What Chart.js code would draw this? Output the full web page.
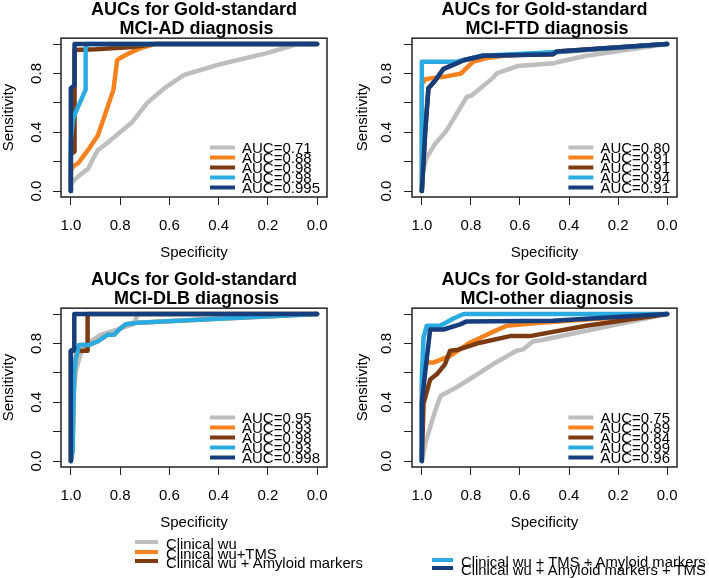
<!DOCTYPE html>
<html>
<head>
<meta charset="utf-8">
<title>AUCs for Gold-standard MCI diagnosis</title>
<script src="https://cdn.jsdelivr.net/npm/chart.js@4.4.1/dist/chart.umd.min.js"></script>
<style>
  html, body { margin: 0; padding: 0; background: #fff; }
  #page { position: relative; width: 709px; height: 578px; overflow: hidden;
          font-family: "Liberation Sans", Arial, Helvetica, sans-serif; }
  .panel { position: absolute; }
  .key { position: absolute; white-space: nowrap; font-size: 14.8px; color: #000;
         height: 16px; line-height: 16px; }
  .key i { position: absolute; left: 0; top: 4px; height: 4px; }
</style>
</head>
<body>
<div id="page">
  <canvas id="c1" class="panel" width="354" height="270" style="left:0;top:0"></canvas>
  <canvas id="c2" class="panel" width="355" height="270" style="left:354px;top:0"></canvas>
  <canvas id="c3" class="panel" width="354" height="270" style="left:0;top:270px"></canvas>
  <canvas id="c4" class="panel" width="355" height="270" style="left:354px;top:270px"></canvas>
</div>
<script>
'use strict';

var FONT = '"Liberation Sans", Arial, Helvetica, sans-serif';

var seriesNames = ['Clinical wu', 'Clinical wu+TMS', 'Clinical wu + Amyloid markers',
    'Clinical wu + TMS + Amyloid markers', 'Clinical wu + Amyloid markers + TMS'];
var seriesColors = ['#bebebe', '#f5821f', '#7b3a12', '#2aace2', '#163e7c'];

var specTicks = [1.0, 0.8, 0.6, 0.4, 0.2, 0.0];
var sensTicks = [0, 0.2, 0.4, 0.6, 0.8, 1.0];
var sensLabelled = [0, 0.4, 0.8];

// ROC points are [specificity, sensitivity]

// MCI-AD
var adAuc = ['AUC=0.71', 'AUC=0.88', 'AUC=0.98', 'AUC=0.98', 'AUC=0.995'];
var adClinical = [[1, 0], [1, 0.05], [0.97, 0.10], [0.94, 0.14], [0.93, 0.15], [0.91, 0.22],
    [0.89, 0.28], [0.85, 0.33], [0.80, 0.40], [0.75, 0.47], [0.69, 0.60], [0.62, 0.70],
    [0.54, 0.79], [0.48, 0.82], [0.40, 0.86], [0.30, 0.90], [0.20, 0.94], [0.12, 0.98],
    [0.08, 1], [0, 1]];
var adTms = [[1, 0], [1, 0.14], [0.99, 0.17], [0.97, 0.19], [0.93, 0.28], [0.89, 0.38],
    [0.847, 0.59], [0.827, 0.69], [0.812, 0.89], [0.80, 0.905], [0.76, 0.94], [0.72, 0.97],
    [0.66, 1], [0, 1]];
var adAmyloid = [[1, 0], [1, 0.25], [0.985, 0.27], [0.985, 0.96], [0.90, 0.965], [0.75, 0.98],
    [0.66, 1], [0, 1]];
var adTmsAmyloid = [[1, 0], [1, 0.35], [0.99, 0.50], [0.94, 0.69], [0.94, 0.97], [0.935, 1], [0, 1]];
var adAmyloidTms = [[1, 0], [1, 0.70], [0.985, 0.72], [0.985, 1], [0, 1]];

// MCI-FTD
var ftdAuc = ['AUC=0.80', 'AUC=0.91', 'AUC=0.91', 'AUC=0.94', 'AUC=0.91'];
var ftdClinical = [[1, 0], [0.995, 0.14], [0.98, 0.23], [0.946, 0.32], [0.90, 0.41], [0.817, 0.64],
    [0.797, 0.65], [0.71, 0.77], [0.695, 0.80], [0.61, 0.85], [0.46, 0.87], [0.44, 0.88],
    [0.33, 0.92], [0, 1]];
var ftdTms = [[1, 0], [1, 0.73], [0.986, 0.76], [0.95, 0.77], [0.90, 0.78], [0.84, 0.80],
    [0.81, 0.85], [0.79, 0.88], [0.735, 0.905], [0.668, 0.92], [0.41, 0.95], [0, 1]];
var ftdAmyloid = [[1, 0], [0.986, 0.41], [0.973, 0.70], [0.946, 0.75], [0.912, 0.83], [0.871, 0.86],
    [0.83, 0.89], [0.75, 0.92], [0.465, 0.93], [0.45, 0.95], [0, 1]];
var ftdTmsAmyloid = [[1, 0], [1, 0.88], [0.858, 0.88], [0.756, 0.92], [0.465, 0.945], [0, 1]];
var ftdAmyloidTms = [[1, 0], [0.986, 0.41], [0.973, 0.70], [0.946, 0.75], [0.912, 0.83], [0.871, 0.86],
    [0.83, 0.89], [0.75, 0.92], [0.465, 0.93], [0.45, 0.95], [0, 1]];

// MCI-DLB
var dlbAuc = ['AUC=0.95', 'AUC=0.93', 'AUC=0.98', 'AUC=0.93', 'AUC=0.998'];
var dlbClinical = [[1, 0], [0.993, 0.39], [0.98, 0.61], [0.96, 0.73], [0.932, 0.80], [0.878, 0.86],
    [0.81, 0.895], [0.75, 0.93], [0.737, 0.96], [0.73, 1], [0, 1]];
var dlbTms = [[1, 0], [0.993, 0.07], [0.986, 0.61], [0.98, 0.70], [0.966, 0.79], [0.926, 0.79],
    [0.89, 0.815], [0.85, 0.86], [0.824, 0.86], [0.804, 0.895], [0.777, 0.93], [0.73, 0.94],
    [0.338, 0.973], [0, 1]];
var dlbAmyloid = [[1, 0], [1, 0.75], [0.932, 0.75], [0.932, 1], [0, 1]];
var dlbTmsAmyloid = [[1, 0], [0.993, 0.07], [0.986, 0.61], [0.98, 0.70], [0.966, 0.79], [0.926, 0.79],
    [0.89, 0.815], [0.85, 0.86], [0.824, 0.86], [0.804, 0.895], [0.777, 0.93], [0.73, 0.94],
    [0.338, 0.973], [0, 1]];
var dlbAmyloidTms = [[1, 0], [1, 0.75], [0.986, 0.76], [0.986, 1], [0, 1]];

// MCI-other
var othAuc = ['AUC=0.75', 'AUC=0.89', 'AUC=0.84', 'AUC=0.99', 'AUC=0.96'];
var othClinical = [[1, 0], [0.986, 0.12], [0.966, 0.23], [0.946, 0.34], [0.923, 0.445], [0.871, 0.49],
    [0.817, 0.545], [0.709, 0.66], [0.614, 0.75], [0.587, 0.76], [0.546, 0.815], [0.52, 0.82], [0, 1]];
var othTms = [[1, 0], [1, 0.52], [0.98, 0.67], [0.953, 0.67], [0.885, 0.715], [0.804, 0.805],
    [0.722, 0.87], [0.654, 0.92], [0.52, 0.94], [0, 1]];
var othAmyloid = [[1, 0], [0.993, 0.39], [0.966, 0.555], [0.939, 0.59], [0.905, 0.66], [0.885, 0.75],
    [0.858, 0.755], [0.763, 0.805], [0.64, 0.85], [0.56, 0.85], [0.33, 0.92], [0, 1]];
var othTmsAmyloid = [[1, 0], [1, 0.57], [0.993, 0.84], [0.98, 0.92], [0.925, 0.92], [0.871, 0.97],
    [0.83, 1], [0, 1]];
var othAmyloidTms = [[1, 0], [1, 0.39], [0.986, 0.61], [0.966, 0.895], [0.912, 0.895], [0.844, 0.93],
    [0.817, 0.95], [0.465, 0.955], [0, 1]];

var panels = [
    {id: 'c1', col: 0, title: ['AUCs for Gold-standard', ' MCI-AD diagnosis'], auc: adAuc,
        curves: [adClinical, adTms, adAmyloid, adTmsAmyloid, adAmyloidTms]},
    {id: 'c2', col: 1, title: ['AUCs for Gold-standard', ' MCI-FTD diagnosis'], auc: ftdAuc,
        curves: [ftdClinical, ftdTms, ftdAmyloid, ftdTmsAmyloid, ftdAmyloidTms]},
    {id: 'c3', col: 0, title: ['AUCs for Gold-standard', ' MCI-DLB diagnosis'], auc: dlbAuc,
        curves: [dlbClinical, dlbTms, dlbAmyloid, dlbTmsAmyloid, dlbAmyloidTms]},
    {id: 'c4', col: 1, title: ['AUCs for Gold-standard', ' MCI-other diagnosis'], auc: othAuc,
        curves: [othClinical, othTms, othAmyloid, othTmsAmyloid, othAmyloidTms]}
];

// left / right column geometry
var columns = [
    {yWidth: 61, padRight: 27, tickPad: 6},
    {yWidth: 58, padRight: 32, tickPad: 7}
];

/**
 * Draws the R style box around the plot region.
 */
var frame = {
    id: 'frame',
    afterDraw: function(chart) {
        var a = chart.chartArea,
            ctx = chart.ctx;
        ctx.save();
        ctx.strokeStyle = '#222';
        ctx.lineWidth = 1.5;
        ctx.strokeRect(a.left, a.top, a.right - a.left, a.bottom - a.top);
        ctx.restore();
    }
};

/**
 * AUC key in the bottom right corner of the plot region.
 */
var aucKey = {
    id: 'aucKey',
    afterDatasetsDraw: function(chart) {
        var ctx = chart.ctx,
            area = chart.chartArea,
            sets = chart.data.datasets,
            widest, textX, lineEnd, rowY;

        ctx.save();
        ctx.font = '15px ' + FONT;
        widest = Math.max.apply(null, sets.map(function(d) {
            return ctx.measureText(d.label).width;
        }));
        textX = area.right - widest - 7;
        lineEnd = textX - 7;
        rowY = function(i) {
            return area.bottom - 9.5 - (sets.length - 1 - i) * 10;
        };

        sets.forEach(function(d, i) {
            ctx.strokeStyle = d.borderColor;
            ctx.lineWidth = 4;
            ctx.beginPath();
            ctx.moveTo(lineEnd - 25, rowY(i));
            ctx.lineTo(lineEnd, rowY(i));
            ctx.stroke();
        });
        ctx.fillStyle = '#000';
        ctx.textBaseline = 'middle';
        sets.forEach(function(d, i) {
            ctx.fillText(d.label, textX, rowY(i) + 1.5);
        });
        ctx.restore();
    }
};

function axisFont() {
    return {family: FONT, size: 15};
}

function makeChart(panel) {
    var col = columns[panel.col];
    var datasets = panel.curves.map(function(points, i) {
        return {
            label: panel.auc[i],
            data: points.map(function(p) {
                return {x: p[0], y: p[1]};
            }),
            borderColor: seriesColors[i],
            backgroundColor: seriesColors[i],
            borderWidth: 4.5,
            borderCapStyle: 'round',
            borderJoinStyle: 'round',
            pointRadius: 0,
            showLine: true,
            tension: 0,
            order: panel.curves.length - i
        };
    });

    return new Chart(document.getElementById(panel.id), {
        type: 'scatter',
        data: {datasets: datasets},
        plugins: [aucKey, frame],
        options: {
            responsive: false,
            animation: false,
            devicePixelRatio: 1,
            layout: {padding: {left: 0, right: col.padRight, top: 0, bottom: 0}},
            plugins: {
                legend: {display: false},
                tooltip: {enabled: false},
                title: {
                    display: true,
                    text: panel.title,
                    fullSize: false,
                    color: '#000',
                    font: {family: FONT, size: 18, weight: 'bold', lineHeight: 1.06},
                    padding: {top: 0, bottom: 0}
                }
            },
            scales: {
                x: {
                    type: 'linear',
                    reverse: true,
                    min: -0.04,
                    max: 1.04,
                    afterBuildTicks: function(scale) {
                        scale.ticks = specTicks.map(function(v) { return {value: v}; });
                    },
                    afterFit: function(scale) { scale.height = 73; },
                    border: {display: false},
                    grid: {drawOnChartArea: false, drawTicks: true, tickLength: 8, color: '#222'},
                    ticks: {
                        color: '#000',
                        font: axisFont(),
                        padding: 12,
                        autoSkip: false,
                        maxRotation: 0,
                        callback: function(v) { return v.toFixed(1); }
                    },
                    title: {
                        display: true,
                        text: 'Specificity',
                        color: '#000',
                        font: axisFont(),
                        padding: {top: 0, bottom: 8}
                    }
                },
                y: {
                    type: 'linear',
                    min: -0.04,
                    max: 1.04,
                    afterBuildTicks: function(scale) {
                        scale.ticks = sensTicks.map(function(v) { return {value: v}; });
                    },
                    afterFit: function(scale) { scale.width = col.yWidth; },
                    border: {display: false},
                    grid: {drawOnChartArea: false, drawTicks: true, tickLength: 8, color: '#222'},
                    ticks: {
                        color: '#000',
                        font: axisFont(),
                        padding: col.tickPad,
                        autoSkip: false,
                        minRotation: 90,
                        maxRotation: 90,
                        crossAlign: 'center',
                        callback: function(v) {
                            return sensLabelled.indexOf(v) >= 0 ? v.toFixed(1) : '';
                        }
                    },
                    title: {
                        display: true,
                        text: 'Sensitivity',
                        color: '#000',
                        font: axisFont(),
                        padding: 0
                    }
                }
            }
        }
    });
}

panels.forEach(makeChart);

// shared key below the panels: first swatch row y, row step
var keyGroups = [
    {left: 135, lineY: 542, step: 9.5, swatch: 23, items: [0, 1, 2]},
    {left: 432, lineY: 560, step: 8, swatch: 21, items: [3, 4]}
];

keyGroups.forEach(function(group) {
    group.items.forEach(function(s, row) {
        var el = document.createElement('div'),
            sw = document.createElement('i'),
            y = group.lineY + row * group.step;
        el.className = 'key';
        el.style.left = group.left + 'px';
        el.style.top = (y - 6) + 'px';
        el.style.paddingLeft = (group.swatch + 8) + 'px';
        sw.style.width = group.swatch + 'px';
        sw.style.background = seriesColors[s];
        el.appendChild(sw);
        el.appendChild(document.createTextNode(seriesNames[s]));
        document.getElementById('page').appendChild(el);
    });
});
</script>
</body>
</html>
